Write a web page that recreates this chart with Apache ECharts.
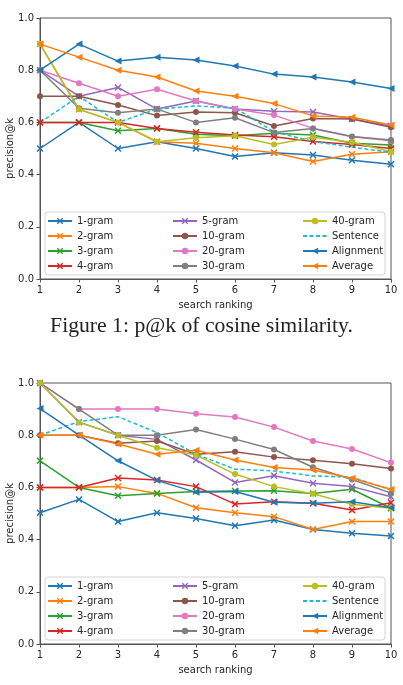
<!DOCTYPE html>
<html>
<head>
    <meta charset="utf-8">
    <title>p@k</title>
    <script src="https://cdn.jsdelivr.net/npm/echarts@6/dist/echarts.min.js"></script>
    <style>
        html, body { margin: 0; padding: 0; background: #fff; }
        #main { width: 403px; height: 685px; }
    </style>
</head>
<body>
<div id="main"></div>
<script type="text/javascript">
    // search ranking k = 1..10
    var ranks = [1, 2, 3, 4, 5, 6, 7, 8, 9, 10];
    var yTicks = [0, 0.2, 0.4, 0.6, 0.8, 1.0];
    var seriesNames = ['1-gram', '2-gram', '3-gram', '4-gram', '5-gram', '10-gram', '20-gram', '30-gram', '40-gram', 'Sentence', 'Alignment', 'Average'];

    // Figure 1: cosine similarity
    var cos_1gram = [0.50, 0.60, 0.50, 0.526, 0.50, 0.469, 0.484, 0.475, 0.455, 0.44];
    var cos_2gram = [0.90, 0.65, 0.60, 0.526, 0.52, 0.50, 0.484, 0.45, 0.478, 0.488];
    var cos_3gram = [0.60, 0.60, 0.568, 0.577, 0.555, 0.549, 0.558, 0.552, 0.52, 0.513];
    var cos_4gram = [0.60, 0.60, 0.60, 0.577, 0.562, 0.552, 0.545, 0.527, 0.515, 0.50];
    var cos_5gram = [0.80, 0.70, 0.734, 0.651, 0.682, 0.651, 0.643, 0.64, 0.613, 0.586];
    var cos_10gram = [0.70, 0.70, 0.667, 0.626, 0.64, 0.637, 0.586, 0.615, 0.613, 0.581];
    var cos_20gram = [0.80, 0.75, 0.70, 0.727, 0.682, 0.651, 0.628, 0.577, 0.545, 0.53];
    var cos_30gram = [0.80, 0.654, 0.637, 0.651, 0.60, 0.618, 0.561, 0.577, 0.546, 0.533];
    var cos_40gram = [0.90, 0.65, 0.60, 0.526, 0.541, 0.549, 0.515, 0.543, 0.524, 0.488];
    var cos_sentence = [0.60, 0.70, 0.60, 0.651, 0.663, 0.655, 0.564, 0.527, 0.505, 0.485];
    var cos_alignment = [0.80, 0.90, 0.835, 0.85, 0.839, 0.816, 0.785, 0.774, 0.755, 0.73];
    var cos_average = [0.90, 0.85, 0.80, 0.774, 0.72, 0.70, 0.672, 0.625, 0.62, 0.59];

    // second figure
    var b_1gram = [0.503, 0.554, 0.469, 0.503, 0.481, 0.453, 0.475, 0.439, 0.424, 0.414];
    var b_2gram = [0.60, 0.60, 0.603, 0.577, 0.522, 0.503, 0.488, 0.439, 0.469, 0.469];
    var b_3gram = [0.702, 0.60, 0.568, 0.577, 0.584, 0.586, 0.587, 0.577, 0.593, 0.52];
    var b_4gram = [0.60, 0.60, 0.636, 0.628, 0.603, 0.536, 0.545, 0.539, 0.513, 0.541];
    var b_5gram = [1.0, 0.85, 0.80, 0.784, 0.705, 0.619, 0.645, 0.616, 0.603, 0.564];
    var b_10gram = [0.80, 0.80, 0.769, 0.778, 0.727, 0.737, 0.716, 0.704, 0.691, 0.672];
    var b_20gram = [1.0, 0.90, 0.90, 0.90, 0.882, 0.87, 0.831, 0.778, 0.747, 0.695];
    var b_30gram = [1.0, 0.90, 0.80, 0.80, 0.822, 0.785, 0.745, 0.677, 0.63, 0.578];
    var b_40gram = [1.0, 0.849, 0.80, 0.752, 0.724, 0.651, 0.603, 0.576, 0.535, 0.52];
    var b_sentence = [0.80, 0.852, 0.871, 0.81, 0.727, 0.67, 0.663, 0.644, 0.639, 0.59];
    var b_alignment = [0.902, 0.80, 0.702, 0.627, 0.581, 0.584, 0.543, 0.539, 0.545, 0.522];
    var b_average = [0.80, 0.80, 0.766, 0.727, 0.742, 0.705, 0.676, 0.667, 0.635, 0.593];

    var fig1 = [cos_1gram, cos_2gram, cos_3gram, cos_4gram, cos_5gram, cos_10gram, cos_20gram, cos_30gram, cos_40gram, cos_sentence, cos_alignment, cos_average];
    var fig2 = [b_1gram, b_2gram, b_3gram, b_4gram, b_5gram, b_10gram, b_20gram, b_30gram, b_40gram, b_sentence, b_alignment, b_average];

    var colors = ['#1f77b4', '#ff7f0e', '#2ca02c', '#d62728', '#9467bd', '#8c564b', '#e377c2', '#7f7f7f', '#bcbd22', '#17becf', '#1f77b4', '#ff7f0e'];
    var xMark = 'path://M0,1.5L1.5,0L5,3.5L8.5,0L10,1.5L6.5,5L10,8.5L8.5,10L5,6.5L1.5,10L0,8.5L3.5,5Z';
    var leftTri = 'path://M0,5L10,0L10,10Z';
    var symbols = [xMark, xMark, xMark, xMark, xMark, 'circle', 'circle', 'circle', 'circle', 'none', leftTri, leftTri];
    var symSizes = [7, 7, 7, 7, 7, 6, 6, 6, 6, 0, 7, 7];

    var font = 'DejaVu Sans';
    var axisColor = '#555';
    var textColor = '#262626';
    var gridTops = [18, 383];

    function makeAxes(idx) {
        var x = {
            type: 'value', gridIndex: idx, min: 1, max: 10, interval: 1,
            name: 'search ranking', nameLocation: 'middle', nameGap: 21, nameMoveOverlap: false,
            nameTextStyle: { fontFamily: font, fontSize: 10, color: textColor },
            axisLine: { show: true, onZero: false, lineStyle: { color: axisColor, width: 1 } },
            axisTick: { show: true, length: 3.5, lineStyle: { color: axisColor } },
            axisLabel: { fontFamily: font, fontSize: 10, color: textColor, margin: 6 },
            splitLine: { show: false }
        };
        var y = {
            type: 'value', gridIndex: idx, min: 0, max: 1, interval: 0.2,
            name: 'precision@k', nameLocation: 'middle', nameGap: 25, nameRotate: 90, nameMoveOverlap: false,
            nameTextStyle: { fontFamily: font, fontSize: 10, color: textColor },
            axisLine: { show: true, lineStyle: { color: axisColor, width: 1 } },
            axisTick: { show: true, length: 3.5, lineStyle: { color: axisColor } },
            axisLabel: {
                fontFamily: font, fontSize: 10, color: textColor, margin: 6,
                formatter: function (v) { return yTicks.indexOf(Math.round(v * 10) / 10) >= 0 ? v.toFixed(1) : ''; }
            },
            splitLine: { show: false }
        };
        return { x: x, y: y };
    }

    function makeSeries(values, idx) {
        return seriesNames.map(function (name, i) {
            return {
                name: name,
                type: 'line',
                xAxisIndex: idx,
                yAxisIndex: idx,
                data: ranks.map(function (k, j) { return [k, values[i][j]]; }),
                symbol: symbols[i],
                symbolSize: symSizes[i],
                showSymbol: symbols[i] !== 'none',
                lineStyle: { color: colors[i], width: 1.5, type: name === 'Sentence' ? [4, 2.5] : 'solid' },
                itemStyle: { color: colors[i] },
                emphasis: { disabled: true }
            };
        });
    }

    function makeLegends(idx) {
        var top = gridTops[idx] + 196;
        var cols = [seriesNames.slice(0, 4), seriesNames.slice(4, 8), seriesNames.slice(8, 12)];
        var lefts = [47, 172, 302];
        return cols.map(function (names, c) {
            return {
                data: names.map(function (n) {
                    // the dashed Sentence line has no marker
                    return n === 'Sentence' ? { name: n, itemStyle: { opacity: 0 } } : n;
                }),
                orient: 'vertical',
                left: lefts[c],
                top: top,
                padding: 0,
                itemWidth: 24,
                itemHeight: 8,
                itemGap: 1,
                selectedMode: false,
                textStyle: { fontFamily: font, fontSize: 10, color: textColor, lineHeight: 14 }
            };
        });
    }

    var a1 = makeAxes(0), a2 = makeAxes(1);

    var option = {
        animation: false,
        backgroundColor: '#fff',
        title: {
            text: 'Figure 1: p@k of cosine similarity.',
            left: 'center',
            top: 315,
            padding: 0,
            textStyle: { fontFamily: 'Liberation Serif', fontSize: 21.7, fontWeight: 'normal', color: '#222' }
        },
        grid: [
            { left: 40, top: gridTops[0], width: 351, height: 261, show: true, borderColor: axisColor, borderWidth: 1, outerBoundsMode: 'none', containLabel: false },
            { left: 40, top: gridTops[1], width: 351, height: 261, show: true, borderColor: axisColor, borderWidth: 1, outerBoundsMode: 'none', containLabel: false }
        ],
        xAxis: [a1.x, a2.x],
        yAxis: [a1.y, a2.y],
        legend: makeLegends(0).concat(makeLegends(1)),
        graphic: [
            { type: 'rect', z: 3, shape: { x: 45, y: gridTops[0] + 194, width: 340, height: 63, r: 3 },
              style: { fill: 'rgba(255,255,255,0.8)', stroke: '#d4d4d4', lineWidth: 1 } },
            { type: 'rect', z: 3, shape: { x: 45, y: gridTops[1] + 194, width: 340, height: 63, r: 3 },
              style: { fill: 'rgba(255,255,255,0.8)', stroke: '#d4d4d4', lineWidth: 1 } }
        ],
        series: makeSeries(fig1, 0).concat(makeSeries(fig2, 1))
    };

    var myChart = echarts.init(document.getElementById('main'), null, { renderer: 'canvas' });
    myChart.setOption(option);
</script>
</body>
</html>
